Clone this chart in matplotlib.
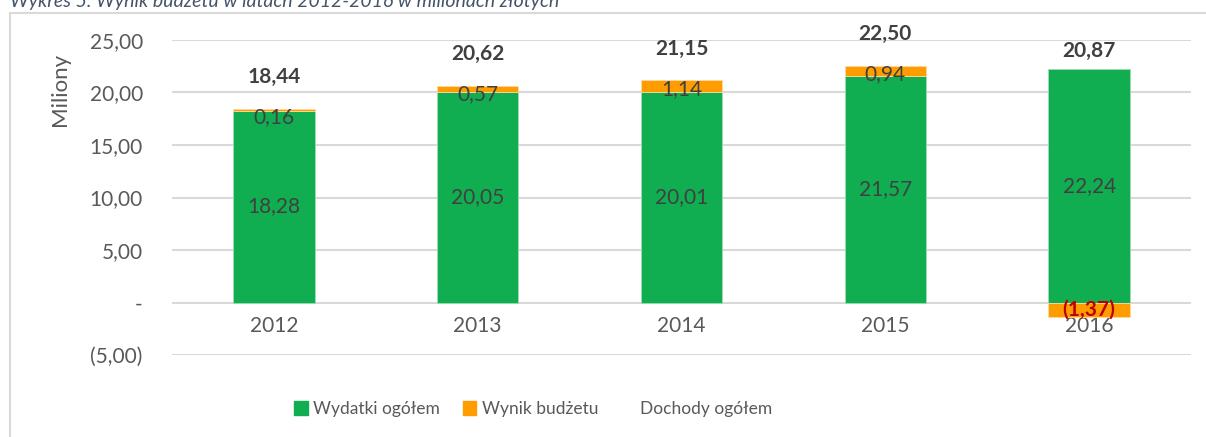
import matplotlib.pyplot as plt
import numpy as np
from matplotlib.lines import Line2D
from matplotlib.patches import Patch, Rectangle
from matplotlib.ticker import FuncFormatter

# Data (millions PLN)
years = ["2012", "2013", "2014", "2015", "2016"]
wydatki = [18.28, 20.05, 20.01, 21.57, 22.24]
wynik = [0.16, 0.57, 1.14, 0.94, -1.37]
dochody = [18.44, 20.62, 21.15, 22.50, 20.87]

GREEN = "#10AD51"
ORANGE = "#FF9C00"
TXT = "#404040"
TICK = "#595959"

plt.rcParams["font.family"] = ["Lato", "DejaVu Sans"]


def pl_fmt(v):
    s = f"{abs(v):.2f}".replace(".", ",")
    if abs(v) < 1e-9:
        return "-"
    return f"({s})" if v < 0 else s


fig = plt.figure(figsize=(12.06, 4.37), dpi=100)
ax = fig.add_axes([0.1426, 0.1876, 0.845, 0.7209])

# outer chart frame (light gray), only left and top visible
fig.patches.append(Rectangle((10 / 1206, -0.1), 1.2, (1 - 13 / 437) + 0.1,
                             transform=fig.transFigure, fill=False,
                             edgecolor="#D9D9D9", lw=1.5))

fig.text(0.008, 1 - 2 / 437, "Wykres 5. Wynik budżetu w latach 2012-2016 w milionach złotych",
         fontsize=14, style="italic", color="#44546A", va="center", ha="left")

x = np.arange(len(years))
w = 0.40
ax.bar(x, wydatki, w, color=GREEN, edgecolor="#9FDDB5", lw=0.6, zorder=3)
bottoms = [wd if wy >= 0 else 0 for wd, wy in zip(wydatki, wynik)]
ax.bar(x, wynik, w, bottom=bottoms, color=ORANGE, edgecolor="#FFD9A0", lw=0.6, zorder=3)
ax.plot(x, dochody, color="none")

for i in range(len(years)):
    ax.text(x[i], wydatki[i] / 2, pl_fmt(wydatki[i]), ha="center", va="center",
            fontsize=15, color=TXT, zorder=5)
    if wynik[i] >= 0:
        top = bottoms[i] + wynik[i]
        ax.annotate(pl_fmt(wynik[i]), (x[i], top), xytext=(0, -6),
                    textcoords="offset points", ha="center", va="center",
                    fontsize=15, color=TXT, zorder=5)
    else:
        ax.annotate(pl_fmt(wynik[i]), (x[i], wynik[i]), xytext=(0, 5),
                    textcoords="offset points", ha="center", va="center",
                    fontsize=15, color="#C00000", fontweight="bold", zorder=5)
    ax.annotate(pl_fmt(dochody[i]), (x[i], dochody[i]), xytext=(0, 23),
                textcoords="offset points", ha="center", va="center",
                fontsize=15, color=TXT, fontweight="bold", zorder=5)

ax.set_ylim(-5, 25)
ax.set_xlim(-0.5, len(years) - 0.5)
ax.set_yticks(np.arange(-5, 26, 5))
ax.yaxis.set_major_formatter(FuncFormatter(lambda v, p: pl_fmt(v)))
ax.set_xticks(x)
ax.set_xticklabels(years)
ax.spines["bottom"].set_position(("data", 0))
ax.tick_params(axis="both", length=0, labelsize=15, labelcolor=TICK)
ax.tick_params(axis="y", pad=21)
ax.tick_params(axis="x", pad=10)
ax.grid(axis="y", color="#D9D9D9", lw=1.5, zorder=0)
for s in ax.spines.values():
    s.set_visible(False)

fig.text(60 / 1206, 1 - 89 / 437, "Miliony", rotation=90, fontsize=16,
         color=TICK, ha="center", va="center")

handles = [Patch(color=GREEN), Patch(color=ORANGE), Line2D([], [], color="none")]
labels = ["Wydatki ogółem", "Wynik budżetu", "Dochody ogółem"]
fig.legend(handles, labels, loc="center", bbox_to_anchor=(533 / 1206, 1 - 409 / 437),
           ncol=3, frameon=False, fontsize=12.5, labelcolor=TICK,
           handlelength=0.8, handleheight=0.8, handletextpad=0.3, columnspacing=1.3)

fig.savefig("out.png", dpi=100)
